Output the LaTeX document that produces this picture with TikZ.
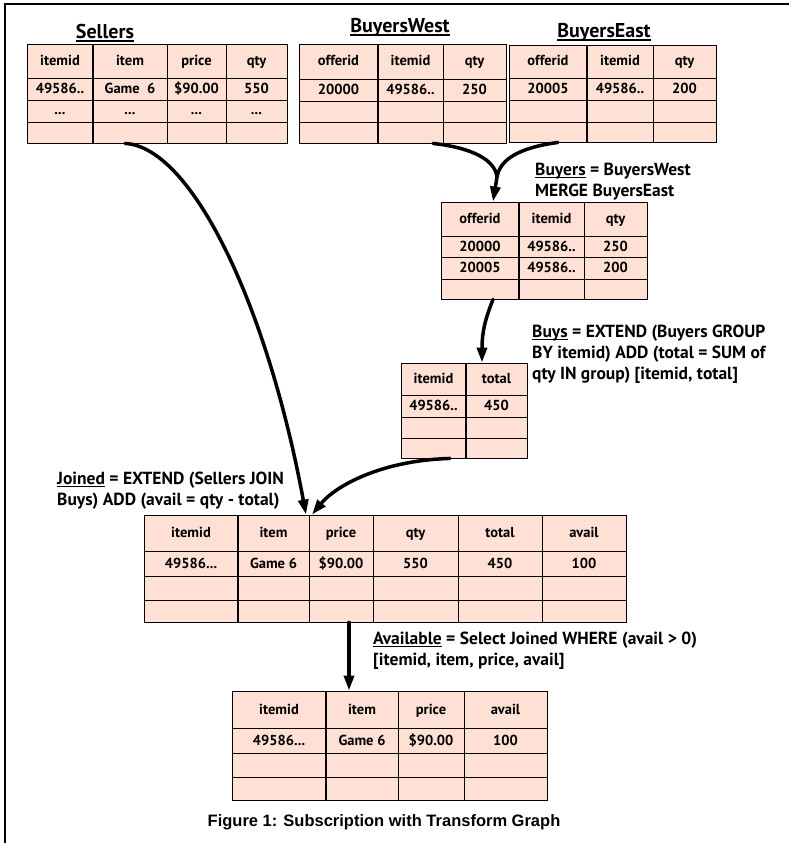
\documentclass[tikz,border=0pt]{standalone}
\usepackage{fontspec}
\setmainfont{PT Sans}
\newfontfamily\capfont{Liberation Sans}
\usetikzlibrary{arrows.meta}
\definecolor{cellfill}{RGB}{255,224,212}
\newcommand{\undl}[1]{\setbox0\hbox{#1}\rlap{\rule[-2.6pt]{\wd0}{1.3pt}}\box0\relax}
\newcommand{\tdots}{...}
\tikzset{
  tbl/.style={draw=black, line width=0.9pt, fill=cellfill, inner sep=0pt},
  gridline/.style={line width=0.9pt},
  keycol/.style={line width=2pt},
  cell/.style={font=\bfseries\fontsize{14.5}{16}\selectfont, inner sep=0pt, text height=11pt, text depth=2pt},
  ttl/.style={font=\bfseries\fontsize{20}{23}\selectfont, inner sep=0pt, anchor=base},
  expr/.style={font=\bfseries\fontsize{17.5}{21}\selectfont, align=left, inner sep=0pt, anchor=north west},
  feed/.style={line width=3.5pt, line cap=round},
  flow/.style={feed, -{Triangle[length=15pt,width=10pt]}},
}
\begin{document}
\begin{tikzpicture}[x=1pt,y=-1pt]
\useasboundingbox (0,0) rectangle (789,843);
\draw[line width=2.5pt] (5,843) -- (5,4) -- (789,4);

% Sellers
\node[ttl] (sellers-t) at (105,39) {\undl{Sellers}};
\node[tbl, minimum width=260pt, minimum height=99pt] (sellers) at (157,93.5) {};
\foreach \x in {167,226} \draw[gridline] (\x,44) -- (\x,143);
\draw[keycol] (93,44) -- (93,143);
\foreach \y in {78,100,122} \draw[gridline] (27,\y) -- (287,\y);
\foreach \x/\t [count=\i] in {60/itemid,130/item,196.5/price,256.5/qty}
  \node[cell] (sellers-h\i) at (\x,61) {\t};
\foreach \x/\t [count=\i] in {60/49586..,130/Game~~6,196.5/\$90.00,256.5/550}
  \node[cell] (sellers-a\i) at (\x,89) {\t};
\foreach \x [count=\i] in {60,130,196.5,256.5}
  \node[cell] (sellers-b\i) at (\x,110) {\tdots};

% BuyersWest
\node[ttl] (bwest-t) at (400,33) {\undl{BuyersWest}};
\node[tbl, minimum width=207pt, minimum height=99pt] (bwest) at (402.5,93.5) {};
\draw[gridline] (443,44) -- (443,143);
\draw[keycol] (378,44) -- (378,143);
\foreach \y in {79,101,122} \draw[gridline] (299,\y) -- (506,\y);
\foreach \x/\t [count=\i] in {338.5/offerid,410.5/itemid,474.5/qty}
  \node[cell] (bwest-h\i) at (\x,61.5) {\t};
\foreach \x/\t [count=\i] in {338.5/20000,410.5/49586..,474.5/250}
  \node[cell] (bwest-a\i) at (\x,90) {\t};

% BuyersEast
\node[ttl] (beast-t) at (604,38) {\undl{BuyersEast}};
\node[tbl, minimum width=207pt, minimum height=97pt] (beast) at (612.5,93.5) {};
\draw[gridline] (653,45) -- (653,142);
\draw[keycol] (587,45) -- (587,142);
\foreach \y in {78,100,122} \draw[gridline] (509,\y) -- (716,\y);
\foreach \x/\t [count=\i] in {548/offerid,620/itemid,684.5/qty}
  \node[cell] (beast-h\i) at (\x,61.5) {\t};
\foreach \x/\t [count=\i] in {548/20005,620/49586..,684.5/200}
  \node[cell] (beast-a\i) at (\x,89) {\t};

% Buyers
\node[expr] (buyers-l) at (535,163) {\undl{Buyers} = BuyersWest\\MERGE BuyersEast};
\node[tbl, minimum width=206pt, minimum height=97pt] (buyers) at (544,250.5) {};
\draw[gridline] (584,202) -- (584,299);
\draw[keycol] (519,202) -- (519,299);
\foreach \y in {236,257,279} \draw[gridline] (441,\y) -- (647,\y);
\foreach \x/\t [count=\i] in {480/offerid,551.5/itemid,615.5/qty}
  \node[cell] (buyers-h\i) at (\x,219) {\t};
\foreach \x/\t [count=\i] in {480/20000,551.5/49586..,615.5/250}
  \node[cell] (buyers-a\i) at (\x,246.5) {\t};
\foreach \x/\t [count=\i] in {480/20005,551.5/49586..,615.5/200}
  \node[cell] (buyers-b\i) at (\x,268) {\t};

% Buys
\node[expr] (buys-l) at (532,325) {\undl{Buys} = EXTEND (Buyers GROUP\\BY itemid) ADD (total = SUM of\\qty IN group) {[}itemid, total{]}};
\node[tbl, minimum width=126pt, minimum height=95pt] (buys) at (464,410.5) {};
\draw[keycol] (466,363) -- (466,458);
\foreach \y in {395,417,438} \draw[gridline] (401,\y) -- (527,\y);
\foreach \x/\t [count=\i] in {433.5/itemid,496.5/total}
  \node[cell] (buys-h\i) at (\x,379) {\t};
\foreach \x/\t [count=\i] in {433.5/49586..,496.5/450}
  \node[cell] (buys-a\i) at (\x,406) {\t};

% Joined
\node[expr] (joined-l) at (57,472) {\undl{Joined} = EXTEND (Sellers JOIN\\Buys) ADD (avail = qty - total)};
\node[tbl, minimum width=482pt, minimum height=107pt] (joined) at (385,568.5) {};
\foreach \x in {309,373,458,542} \draw[gridline] (\x,515) -- (\x,622);
\draw[keycol] (238,515) -- (238,622);
\foreach \y in {551,576,600} \draw[gridline] (144,\y) -- (626,\y);
\foreach \x/\t [count=\i] in {191/itemid,273.5/item,341/price,415.5/qty,500/total,584/avail}
  \node[cell] (joined-h\i) at (\x,533) {\t};
\foreach \x/\t [count=\i] in {191/49586\tdots,273.5/Game 6,341/\$90.00,415.5/550,500/450,584/100}
  \node[cell] (joined-a\i) at (\x,563.5) {\t};

% Available
\node[expr] (avail-l) at (373,632) {\undl{Available} = Select Joined WHERE (avail > 0)\\{[}itemid, item, price, avail{]}};
\node[tbl, minimum width=315pt, minimum height=109pt] (avail) at (389.5,745.5) {};
\foreach \x in {398,464} \draw[gridline] (\x,691) -- (\x,800);
\draw[keycol] (326,691) -- (326,800);
\foreach \y in {728,753,777} \draw[gridline] (232,\y) -- (547,\y);
\foreach \x/\t [count=\i] in {279/itemid,362/item,431/price,505.5/avail}
  \node[cell] (avail-h\i) at (\x,709.5) {\t};
\foreach \x/\t [count=\i] in {279/49586\tdots,362/Game 6,431/\$90.00,505.5/100}
  \node[cell] (avail-a\i) at (\x,740.5) {\t};

% connectors
\coordinate (merge) at (497,177);
\draw[feed] ([xshift=30.5pt]bwest.south) .. controls +(37,4) and +(-2,-18) .. (merge);
\draw[feed] ([xshift=-54.5pt]beast.south) .. controls +(-38,5) and +(3,-18) .. (merge);
\draw[flow] (merge) -- ([xshift=-51pt]buyers.north);
\draw[flow] ([xshift=-51pt]buyers.south) .. controls +(-8,20) and +(0,-30) .. ([xshift=18pt]buys.north);
\draw[flow] ([xshift=-32pt]sellers.south) .. controls +(65,3) and +(-40,-215) .. ([xshift=-79pt]joined.north);
\draw[flow] ([xshift=-14pt]buys.south) .. controls +(-70,2) and +(23,-28) .. ([xshift=-73pt]joined.north);
\draw[flow] ([xshift=-36pt]joined.south) -- ([xshift=-40.5pt]avail.north);

\node[font=\capfont\bfseries\fontsize{16.5}{18}\selectfont] (caption) at (384,822) {Figure 1: Subscription with Transform Graph};
\end{tikzpicture}
\end{document}
